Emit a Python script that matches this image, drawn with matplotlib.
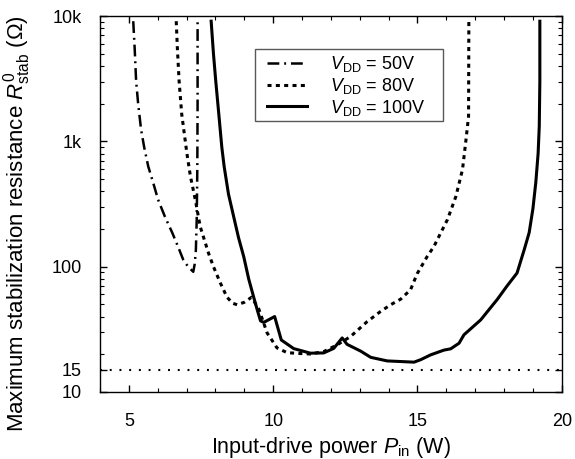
import numpy as np
import matplotlib
matplotlib.use("Agg")
import matplotlib.pyplot as plt
from matplotlib.patches import Rectangle
from matplotlib.ticker import MultipleLocator, LogLocator, NullFormatter

plt.rcParams['font.family'] = ['Liberation Sans', 'DejaVu Sans']
plt.rcParams['mathtext.fontset'] = 'custom'
plt.rcParams['mathtext.rm'] = 'Liberation Sans'
plt.rcParams['mathtext.it'] = 'Liberation Sans:italic'
plt.rcParams['lines.scale_dashes'] = False

# V_DD = 50 V (dash-dot)
p50 = [5.15, 5.20, 5.25, 5.32, 5.42, 5.53, 5.67, 5.85, 6.01, 6.25, 6.50, 6.70,
       6.88, 7.05, 7.23, 7.28, 7.32, 7.35, 7.37, 7.38, 7.38]
r50 = [9100, 5500, 3020, 2000, 1250, 896, 631, 460, 343, 250, 187, 145,
       114, 100, 91, 105, 135, 238, 600, 2000, 9100]

# V_DD = 80 V (dotted)
p80 = [6.64, 6.68, 6.74, 6.83, 6.92, 7.01, 7.13, 7.30, 7.47, 7.76, 7.93, 8.17,
       8.40, 8.60, 8.75, 9.00, 9.25, 9.50, 9.79, 10.13, 10.48, 10.89, 11.29,
       11.75, 12.22, 12.68, 13.26, 13.72, 14.07, 14.42, 14.76, 14.99, 15.34,
       15.57, 15.80, 16.04, 16.33, 16.56, 16.67, 16.77, 16.78]
r80 = [9100, 5500, 3020, 1650, 1150, 800, 529, 343, 209, 128, 100, 74,
       57, 51, 49.7, 52, 57, 46, 29.6, 22.5, 20.6, 20.3, 20.1,
       21, 23.8, 27.7, 36.5, 43.9, 49.7, 55.1, 65.5, 88, 121,
       145, 185, 238, 363, 597, 980, 1585, 9100]

# V_DD = 100 V (solid)
p100 = [7.85, 7.93, 8.01, 8.10, 8.22, 8.30, 8.45, 8.63, 8.80, 8.98, 9.15, 9.32,
        9.45, 9.56, 9.67, 10.05, 10.28, 10.71, 11.29, 11.75, 12.10, 12.39,
        12.56, 13.03, 13.38, 13.95, 14.88, 15.11, 15.46, 15.92, 16.15, 16.44,
        16.61, 17.19, 17.77, 18.10, 18.45, 18.70, 18.87, 19.00, 19.10, 19.18,
        19.22, 19.24, 19.24]
r100 = [9100, 5000, 3020, 1800, 896, 631, 380, 251, 170, 120, 80, 57.5,
        45, 37, 35.9, 40, 26, 22.2, 20.4, 20.5, 22.3, 27,
        24, 21.2, 18.9, 17.7, 17.3, 18.1, 19.8, 21.6, 22.1, 24.5,
        28.6, 37.6, 55, 70, 89, 137, 187, 290, 470, 800,
        1318, 3000, 9100]

r_limit = 15
yticks = [10, 15, 100, 1000, 10000]
ylabels = ['10', '15', '100', '1k', '10k']

fig = plt.figure(figsize=(5.75, 4.59), dpi=100)
ax = fig.add_axes([0.174, 0.146, 0.803, 0.819])

ax.plot(p50, r50, color='black', lw=1.8, dashes=(8.5, 3.5, 1.4, 3.5),
        label=r'$V_{\rm DD}$ = 50V')
ax.plot(p80, r80, color='black', lw=2.2, dashes=(2.9, 3.1),
        label=r'$V_{\rm DD}$ = 80V')
ax.plot(p100, r100, color='black', lw=2.2, label=r'$V_{\rm DD}$ = 100V')
ax.axhline(r_limit, color='black', lw=1.5, dashes=(1.4, 5.6))

ax.set_yscale('log')
ax.set_xlim(4, 20)
ax.set_ylim(10, 10000)
ax.set_xticks([5, 10, 15, 20])
ax.xaxis.set_minor_locator(MultipleLocator(1))
ax.set_yticks(yticks)
ax.set_yticklabels(ylabels)
ax.yaxis.set_minor_locator(LogLocator(base=10, subs=np.arange(2, 10)))
ax.yaxis.set_minor_formatter(NullFormatter())

ax.tick_params(which='both', direction='in', top=True, right=True, labelsize=13)
ax.tick_params(which='major', length=5, width=1)
ax.tick_params(which='minor', length=3, width=0.8)
ax.tick_params(axis='y', pad=13)
ax.tick_params(axis='x', pad=15)
for s in ax.spines.values():
    s.set_linewidth(1.0)

ax.set_xlabel(r'Input-drive power $P_{\rm in}$ (W)', fontsize=15.5, labelpad=4)
ax.set_ylabel(r'Maximum stabilization resistance $R^{0}_{\rm stab}$ ($\Omega$)',
              fontsize=16)
ax.yaxis.set_label_coords(-0.146, 0.447)

# legend frame drawn separately so its padding matches the original
ax.add_patch(Rectangle((0.3355, 0.7207), 0.4069, 0.1915, transform=ax.transAxes,
                       facecolor='white', edgecolor='0.35', lw=1.0, zorder=4))
leg = ax.legend(loc='upper left', bbox_to_anchor=(0.3615, 0.899), fontsize=13,
                frameon=False, handlelength=2.2, handletextpad=1.3,
                labelspacing=0.1, borderpad=0, borderaxespad=0)
leg.set_zorder(5)

fig.savefig('out.png', dpi=100)
